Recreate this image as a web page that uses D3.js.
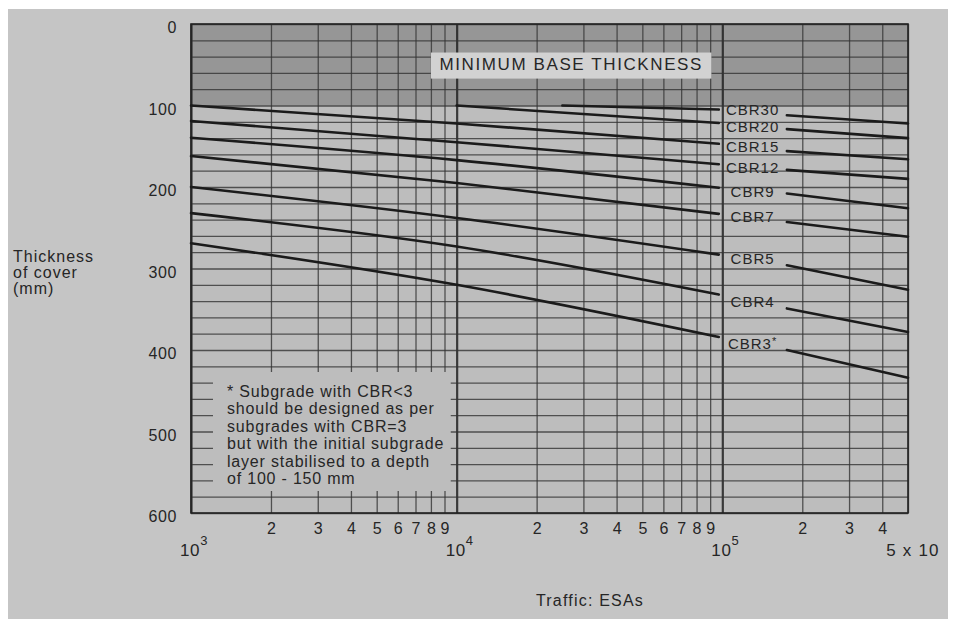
<!DOCTYPE html>
<html>
<head>
<meta charset="utf-8">
<script src="https://cdn.jsdelivr.net/npm/d3@7"></script>
<style>
  body { margin: 0; background: #fff; }
  svg { display: block; font-family: 'Liberation Sans', Arial, sans-serif; }
</style>
</head>
<body>
<svg id="base" width="963" height="619"></svg>
<script>
// values (traffic in ESAs, cover thickness in mm)
const yTicks = [0, 100, 200, 300, 400, 500, 600]
const minorDigits = [2, 3, 4, 5, 6, 7, 8, 9]
const decades = [1e3, 1e4, 1e5]
const decadeExp = ['3', '4', '5']
const cbrNames = ['CBR30', 'CBR20', 'CBR15', 'CBR12', 'CBR9', 'CBR7', 'CBR5', 'CBR4', 'CBR3']
const cbrLabelAt = [105, 126, 150.5, 176, 206, 236, 287.5, 341, 392] // mm where each label sits
const cbr30 = [[2.5e4, 100], [9.7e4, 105], [1.75e5, 112], [5e5, 122]]
const cbr20 = [[1e4, 100], [9.7e4, 121.5], [1.75e5, 129], [5e5, 140]]
const cbr15 = [[1e3, 100], [1e4, 122], [9.7e4, 147], [1.75e5, 156], [5e5, 166]]
const cbr12 = [[1e3, 119], [1e4, 145], [9.7e4, 172], [1.75e5, 179], [5e5, 190]]
const cbr9 = [[1e3, 139.5], [1e4, 167], [9.7e4, 201], [1.75e5, 208], [5e5, 226]]
const cbr7 = [[1e3, 162], [1e4, 195], [9.7e4, 233], [1.75e5, 243], [5e5, 261]]
const cbr5 = [[1e3, 200], [1e4, 238], [9.7e4, 283], [1.75e5, 296], [5e5, 326]]
const cbr4 = [[1e3, 232], [1e4, 273], [9.7e4, 332], [1.75e5, 349], [5e5, 378]]
const cbr3 = [[1e3, 269], [1e4, 320], [9.7e4, 384], [1.75e5, 400], [5e5, 434]]
const labelGap = [9.7e4, 1.75e5] // curves break here for the CBR labels
const minBase = 100
const noteLines = [
    '* Subgrade with CBR<3',
    'should be designed as per',
    'subgrades with CBR=3',
    'but with the initial subgrade',
    'layer stabilised to a depth',
    'of 100 - 150 mm'
]

const curves = [cbr30, cbr20, cbr15, cbr12, cbr9, cbr7, cbr5, cbr4, cbr3]

const paper = '#c5c5c5'
const plotBg = '#bdbdbd'
const ink = '#262626'

const x = d3.scaleLog().domain([1e3, 5e5]).range([191, 908])
const y = d3.scaleLinear().domain([0, 600]).range([24, 513])
const W = x.range()[1] - x.range()[0]
const H = y.range()[1] - y.range()[0]

const base = d3.select('#base')

// photographed page
base.append('rect').attr('x', 8).attr('y', 9).attr('width', 940).attr('height', 610).attr('fill', paper)
base.append('rect').attr('x', x(1e3)).attr('y', y(0)).attr('width', W).attr('height', H).attr('fill', plotBg)
base.append('rect').attr('x', x(1e3)).attr('y', y(0)).attr('width', W).attr('height', y(minBase) - y(0))
    .attr('fill', '#969696')

// vertical grid, one line per 1..9 of each decade
let gridX = []
decades.forEach(d => minorDigits.concat([1]).forEach(k => { if (k * d <= 5e5) gridX.push(k * d) }))
gridX.sort((a, b) => a - b)
const gx = base.append('g')
    .attr('transform', `translate(0,${y(600)})`)
    .call(d3.axisBottom(x).tickValues(gridX).tickSize(-H).tickFormat(''))
gx.select('.domain').remove()
gx.selectAll('line')
    .attr('stroke', d => decades.includes(d) ? '#222' : '#3c3c3c')
    .attr('stroke-width', d => decades.includes(d) ? 2.2 : 1.3)
    .attr('stroke-opacity', 0.85)

// horizontal grid, every 20 mm
const gy = base.append('g')
    .attr('transform', `translate(${x(1e3)},0)`)
    .call(d3.axisLeft(y).tickValues(d3.range(0, 601, 20)).tickSize(-W).tickFormat(''))
gy.select('.domain').remove()
gy.selectAll('line')
    .attr('stroke', '#333')
    .attr('stroke-width', d => d % 100 == 0 ? 1.7 : 1.2)
    .attr('stroke-opacity', 0.8)

// note box hides the grid behind it
base.append('rect')
    .attr('x', x(1.21e3)).attr('y', y(427))
    .attr('width', x(9.5e3) - x(1.21e3)).attr('height', y(573) - y(427))
    .attr('fill', plotBg)

// frame
base.append('rect').attr('x', x(1e3)).attr('y', y(0)).attr('width', W).attr('height', H)
    .attr('fill', 'none').attr('stroke', '#222').attr('stroke-width', 1.6)

// minimum base label
base.append('rect')
    .attr('x', x(8e3)).attr('y', y(35))
    .attr('width', x(9.1e4) - x(8e3)).attr('height', y(67) - y(35))
    .attr('fill', '#d2d2d2')
base.append('text')
    .attr('x', x(2.7e4)).attr('y', y(57))
    .attr('text-anchor', 'middle')
    .attr('font-size', 17).attr('letter-spacing', 1.6)
    .attr('fill', ink)
    .text('MINIMUM BASE THICKNESS')

// CBR curves, broken around the labels
const line = d3.line().x(d => x(d[0])).y(d => y(d[1])).curve(d3.curveMonotoneX)
curves.forEach((pts, i) => {
    let left = pts.filter(p => p[0] <= labelGap[0])
    let right = pts.filter(p => p[0] >= labelGap[1])
    ;[left, right].forEach(seg => {
        if (seg.length < 2) return
        base.append('path')
            .attr('d', line(seg))
            .attr('fill', 'none')
            .attr('stroke', '#1b1b1b')
            .attr('stroke-width', 2.6)
            .attr('stroke-linecap', 'round')
    })
    let t = base.append('text')
        .attr('x', x(1.3e5)).attr('y', y(cbrLabelAt[i]))
        .attr('dy', '0.36em')
        .attr('text-anchor', 'middle')
        .attr('font-size', 15).attr('letter-spacing', 1)
        .attr('fill', ink)
        .text(cbrNames[i])
    if (cbrNames[i] == 'CBR3') t.append('tspan').attr('dy', '-0.35em').attr('font-size', 11).text('*')
})

// note
const note = base.append('text')
    .attr('font-size', 16).attr('letter-spacing', 0.8)
    .attr('fill', ink)
noteLines.forEach((s, i) => {
    note.append('tspan').attr('x', 227).attr('y', 397 + i * 17.4).text(s)
})

// y axis labels
const ay = base.append('g')
    .attr('transform', `translate(${x(1e3)},0)`)
    .call(d3.axisLeft(y).tickValues(yTicks).tickSize(0).tickPadding(14))
ay.select('.domain').remove()
ay.selectAll('text')
    .attr('dy', '0.55em')
    .attr('font-size', 16).attr('letter-spacing', 0.6)
    .attr('font-family', "'Liberation Sans', Arial, sans-serif")
    .attr('fill', ink)

// x axis minor digits
let minorX = []
decades.forEach(d => minorDigits.forEach(k => { if (k * d < 5e5) minorX.push(k * d) }))
const ax = base.append('g')
    .attr('transform', `translate(0,${y(600)})`)
    .call(d3.axisBottom(x).tickValues(minorX).tickSize(0).tickPadding(10)
        .tickFormat(d => Math.round(d / Math.pow(10, Math.floor(Math.log10(d) + 1e-9)))))
ax.select('.domain').remove()
ax.selectAll('text')
    .attr('font-size', 16)
    .attr('font-family', "'Liberation Sans', Arial, sans-serif")
    .attr('fill', ink)

// decade labels
decades.forEach((d, i) => {
    let t = base.append('text')
        .attr('x', x(d) + 3).attr('y', 556)
        .attr('text-anchor', 'middle')
        .attr('font-size', 17).attr('letter-spacing', 0.6)
        .attr('fill', ink)
    t.append('tspan').text('10')
    t.append('tspan').attr('dy', -11).attr('font-size', 13).text(decadeExp[i])
})
base.append('text')
    .attr('x', x(5e5) + 5).attr('y', 556)
    .attr('text-anchor', 'middle')
    .attr('font-size', 17).attr('letter-spacing', 1.2)
    .attr('fill', ink)
    .text('5 x 10')

// axis titles
const yt = base.append('text').attr('font-size', 16).attr('letter-spacing', 1).attr('fill', ink)
;['Thickness', 'of cover', '(mm)'].forEach((s, i) => {
    yt.append('tspan').attr('x', 13).attr('y', 262 + i * 16).text(s)
})
base.append('text')
    .attr('x', 590).attr('y', 606)
    .attr('text-anchor', 'middle')
    .attr('font-size', 16).attr('letter-spacing', 1.2)
    .attr('fill', ink)
    .text('Traffic: ESAs')
</script>
</body>
</html>
